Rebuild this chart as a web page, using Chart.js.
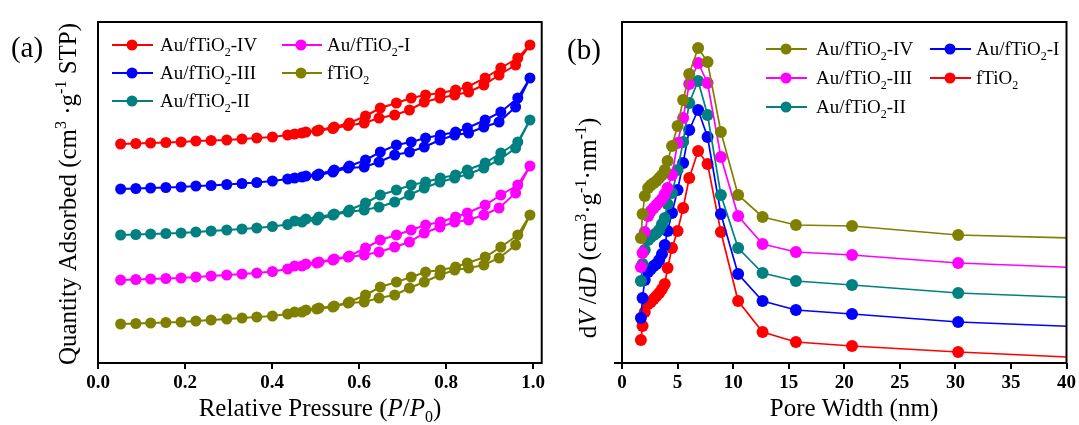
<!DOCTYPE html>
<html>
<head>
<meta charset="utf-8">
<script src="https://cdn.jsdelivr.net/npm/chart.js@4.4.0/dist/chart.umd.min.js"></script>
<style>
  body { margin: 0; background: #fff; }
  #wrap { position: relative; width: 1079px; height: 425px; }
  #boxA { position: absolute; left: 0; top: 0; width: 548px; height: 425px; }
  #boxB { position: absolute; left: 548px; top: 0; width: 531px; height: 425px; }
</style>
</head>
<body>
<div id="wrap">
  <div id="boxA"><canvas id="isoChart"></canvas></div>
  <div id="boxB"><canvas id="poreChart"></canvas></div>
</div>
<script>
// ---- (a) N2 isotherms (y in arbitrary, offset units) ----
const adsP = [0.052, 0.087, 0.121, 0.156, 0.191, 0.225, 0.26, 0.296, 0.331, 0.365, 0.401, 0.436, 0.469, 0.503,
              0.54, 0.575, 0.612, 0.646, 0.682, 0.716, 0.75, 0.786, 0.82, 0.852, 0.887, 0.922, 0.96, 0.993];
const desP = [0.965, 0.926, 0.89, 0.849, 0.822, 0.787, 0.753, 0.72, 0.686, 0.649, 0.615, 0.578, 0.543, 0.508, 0.478, 0.452];

const adsIV  = [219, 219.5, 220, 220.5, 221, 222, 222.5, 223, 224, 225, 226, 228, 230, 232, 234.5, 237.5, 240, 245, 248, 253, 261, 265, 268, 271, 278, 288, 298, 318];
const desIV  = [305, 295, 285, 276, 273, 270, 268, 265, 260, 255, 247, 240, 236, 233, 231, 229];
const adsIII = [174, 174.5, 175, 175.5, 176, 177, 177.5, 178.5, 179.5, 180.5, 182, 184, 186, 187.5, 191, 195, 196, 201, 208, 211, 216, 223, 228, 230, 236, 241, 256, 285];
const desIII = [265, 251, 243, 235, 231, 228, 225, 221, 218, 211, 203, 197, 193, 189, 187, 185];
const adsII  = [128, 128.5, 129, 129.5, 130, 131, 132, 133, 134, 135, 136.5, 138.5, 141, 143, 148, 151, 153, 156, 161, 168, 175, 181, 185, 189, 195, 203, 215, 243];
const desII  = [221, 210, 200, 193, 188, 185, 181, 178, 173, 168, 160, 153, 149, 146, 144, 142];
const adsI   = [83, 83.5, 84, 84.5, 85, 86, 87, 88, 89, 90, 91.5, 94, 97, 100, 103, 106, 108, 111, 116, 121, 130, 136, 141, 143, 148, 155, 170, 197];
const desI   = [178, 168, 158, 150, 146, 141, 138, 133, 128, 123, 115, 107, 104, 101, 99, 97];
const adsF   = [39, 39.5, 40, 40.5, 41, 42, 43, 44, 45, 46, 47, 49, 51, 54, 56, 60, 61, 65, 68, 75, 81, 88, 93, 95, 98, 105, 118, 148];
const desF   = [128, 116, 106, 100, 96, 93, 91, 86, 81, 76, 68, 61, 57, 55, 53, 51];

const sampleLabels = ['Au/fTiO2-IV', 'Au/fTiO2-III', 'Au/fTiO2-II', 'Au/fTiO2-I', 'fTiO2'];
const isoColors = ['#ff0000', '#0000ff', '#008080', '#ff00ff', '#808000'];
const xTicksA = [0, 0.2, 0.4, 0.6, 0.8, 1.0];

// ---- (b) pore size distribution ----
const poreW = [1.7, 1.85, 2.05, 2.35, 2.6, 2.85, 3.1, 3.35, 3.6, 3.85, 4.1, 4.5, 5.0, 5.5, 6.05, 6.85, 7.7, 8.9,
               10.45, 12.65, 15.65, 20.7, 30.25, 44];
const psdIV  = [125, 149, 167, 175, 178, 180, 182, 185, 188, 193, 202, 217, 237, 263, 289, 315, 301, 231, 168, 146, 138, 137, 128, 124];
const psdIII = [96, 110, 131, 147, 152, 155, 158, 161, 164, 169, 175, 188, 220, 245, 279, 300, 280, 206, 147, 119, 111, 108, 100, 94];
const psdII  = [82, 99, 113, 123, 126, 128, 130, 133, 139, 145, 159, 170, 193, 221, 260, 282, 248, 168, 115, 90, 82, 78, 70, 64];
const psdI   = [45, 65, 83, 91, 94, 97, 99, 103, 109, 118, 132, 150, 173, 200, 233, 253, 226, 149, 89, 62, 53, 49, 41, 35];
const psdF   = [23, 37, 51, 59, 61, 64, 67, 70, 74, 79, 95, 115, 132, 155, 185, 212, 199, 131, 62, 31, 21, 17, 11, 4];
const psdColors = ['#808000', '#ff00ff', '#008080', '#0000ff', '#ff0000'];
const xTicksB = [0, 5, 10, 15, 20, 25, 30, 35, 40];

const FONT = '"Liberation Serif", "Times New Roman", serif';

// rich text helpers (italic / sub / sup)
function fontFor(style, size) {
  const s = (style === 'sub' || style === 'sup') ? Math.round(size * 0.62) : size;
  return (style === 'i' ? 'italic ' : '') + s + 'px ' + FONT;
}
function drawRich(ctx, parts, x, y, size, align) {
  let w = 0;
  parts.forEach(p => { ctx.font = fontFor(p[1], size); w += ctx.measureText(p[0]).width; });
  let cx = align === 'center' ? x - w / 2 : x;
  ctx.textBaseline = 'alphabetic';
  ctx.textAlign = 'left';
  parts.forEach(p => {
    ctx.font = fontFor(p[1], size);
    let dy = 0;
    if (p[1] === 'sub') dy = size * 0.25;
    if (p[1] === 'sup') dy = -size * 0.4;
    ctx.fillText(p[0], cx, y + dy);
    cx += ctx.measureText(p[0]).width;
  });
}
function labelParts(s) {
  const i = s.indexOf('TiO2');
  return [[s.slice(0, i + 3), ''], ['2', 'sub'], [s.slice(i + 4), '']];
}

// frame, titles, panel tag and legend drawn on the canvas
function makeDeco(cfg) {
  return {
    id: 'deco',
    afterDraw(chart) {
      const ctx = chart.ctx, a = chart.chartArea;
      ctx.save();
      ctx.strokeStyle = '#000';
      ctx.lineWidth = 2;
      ctx.strokeRect(a.left, a.top, a.right - a.left, a.bottom - a.top);
      if (cfg.overhang) {
        ctx.beginPath();
        ctx.moveTo(a.left - cfg.overhang, a.bottom);
        ctx.lineTo(a.left, a.bottom);
        ctx.stroke();
      }
      ctx.fillStyle = '#000';
      drawRich(ctx, [[cfg.tag, '']], cfg.tagX, cfg.tagY, 29, 'center');
      drawRich(ctx, cfg.xTitle, cfg.xTitleX, cfg.xTitleY, 25, 'center');
      ctx.save();
      ctx.translate(cfg.yTitleX, cfg.yTitleY);
      ctx.rotate(-Math.PI / 2);
      drawRich(ctx, cfg.yTitle, 0, 0, 25, 'center');
      ctx.restore();

      chart.data.datasets.forEach((ds, i) => {
        const s = cfg.slots[i];
        const y = cfg.rows[s[1]];
        const col = cfg.cols[s[0]];
        ctx.strokeStyle = ds.borderColor;
        ctx.lineWidth = 2;
        ctx.beginPath();
        ctx.moveTo(col.x0, y);
        ctx.lineTo(col.x1, y);
        ctx.stroke();
        ctx.fillStyle = ds.borderColor;
        ctx.beginPath();
        ctx.arc(col.m, y, 5.5, 0, Math.PI * 2);
        ctx.fill();
        ctx.fillStyle = '#000';
        drawRich(ctx, labelParts(ds.label), col.t, y + 6, 19, 'left');
      });
      ctx.restore();
    }
  };
}

function series(label, color, xs, ys, radius, width) {
  return {
    label: label,
    data: xs.map((x, i) => ({ x: x, y: ys[i] })),
    showLine: true,
    borderColor: color,
    backgroundColor: color,
    pointBackgroundColor: color,
    pointBorderColor: color,
    pointBorderWidth: 0,
    pointRadius: radius,
    borderWidth: width,
    tension: 0
  };
}

function axisOptions(xMin, xMax, xTicks, leftW, padRight, fmt) {
  return {
    responsive: true,
    maintainAspectRatio: false,
    animation: false,
    events: [],
    layout: { padding: { top: 22, right: padRight, left: 0, bottom: 0 } },
    plugins: { legend: { display: false }, tooltip: { enabled: false } },
    scales: {
      x: {
        type: 'linear', min: xMin, max: xMax,
        afterBuildTicks: s => { s.ticks = xTicks.map(v => ({ value: v })); },
        afterFit: s => { s.height = 62; },
        border: { display: false },
        grid: { drawOnChartArea: false, drawTicks: true, tickLength: 6, color: '#000', lineWidth: 2 },
        ticks: {
          color: '#000', padding: 3, autoSkip: false, maxRotation: 0,
          font: { family: FONT, size: 19, weight: 'bold' },
          callback: fmt
        }
      },
      y: {
        type: 'linear', min: 0, max: 341,
        afterFit: s => { s.width = leftW; },
        border: { display: false },
        grid: { display: false },
        ticks: { display: false }
      }
    }
  };
}

// Isotherm loops: adsorption branch up, desorption branch back down
const isoAds = [adsIV, adsIII, adsII, adsI, adsF];
const isoDes = [desIV, desIII, desII, desI, desF];
const isoSets = sampleLabels.map((lab, i) =>
  series(lab, isoColors[i], adsP.concat(desP), isoAds[i].concat(isoDes[i]), 5.5, 2));

new Chart(document.getElementById('isoChart'), {
  type: 'scatter',
  data: { datasets: isoSets },
  options: axisOptions(0, 1.02, xTicksA, 98, 6, v => Number(v).toFixed(1)),
  plugins: [makeDeco({
    tag: '(a)', tagX: 27, tagY: 57,
    xTitle: [['Relative Pressure (', ''], ['P', 'i'], ['/', ''], ['P', 'i'], ['0', 'sub'], [')', '']],
    xTitleX: 320, xTitleY: 416,
    yTitle: [['Quantity Adsorbed (cm', ''], ['3', 'sup'], [' \u00b7g', ''], ['-1', 'sup'], [' STP)', '']],
    yTitleX: 76, yTitleY: 194,
    rows: [45, 73, 101],
    cols: [{ x0: 112, x1: 153, m: 132, t: 160 }, { x0: 282, x1: 322, m: 301, t: 327 }],
    slots: [[0, 0], [0, 1], [0, 2], [1, 0], [1, 1]]
  })]
});

// Pore size distribution
const psdSets = [psdIV, psdIII, psdII, psdI, psdF].map((ys, i) =>
  series(sampleLabels[i], psdColors[i], poreW, ys, 6, 1.7));

new Chart(document.getElementById('poreChart'), {
  type: 'scatter',
  data: { datasets: psdSets },
  options: axisOptions(0, 40, xTicksB, 74, 12, v => v),
  plugins: [makeDeco({
    tag: '(b)', tagX: 36, tagY: 59, overhang: 8,
    xTitle: [['Pore Width (nm)', '']],
    xTitleX: 306, xTitleY: 416,
    yTitle: [['d', ''], ['V', 'i'], [' /d', ''], ['D', 'i'], [' (cm', ''], ['3', 'sup'], ['\u00b7g', ''], ['-1', 'sup'],
             ['\u00b7nm', ''], ['-1', 'sup'], [')', '']],
    yTitleX: 48, yTitleY: 228,
    rows: [49, 78, 107],
    cols: [{ x0: 218, x1: 259, m: 238, t: 268 }, { x0: 382, x1: 423, m: 402, t: 428 }],
    slots: [[0, 0], [0, 1], [0, 2], [1, 0], [1, 1]]
  })]
});
</script>
</body>
</html>
